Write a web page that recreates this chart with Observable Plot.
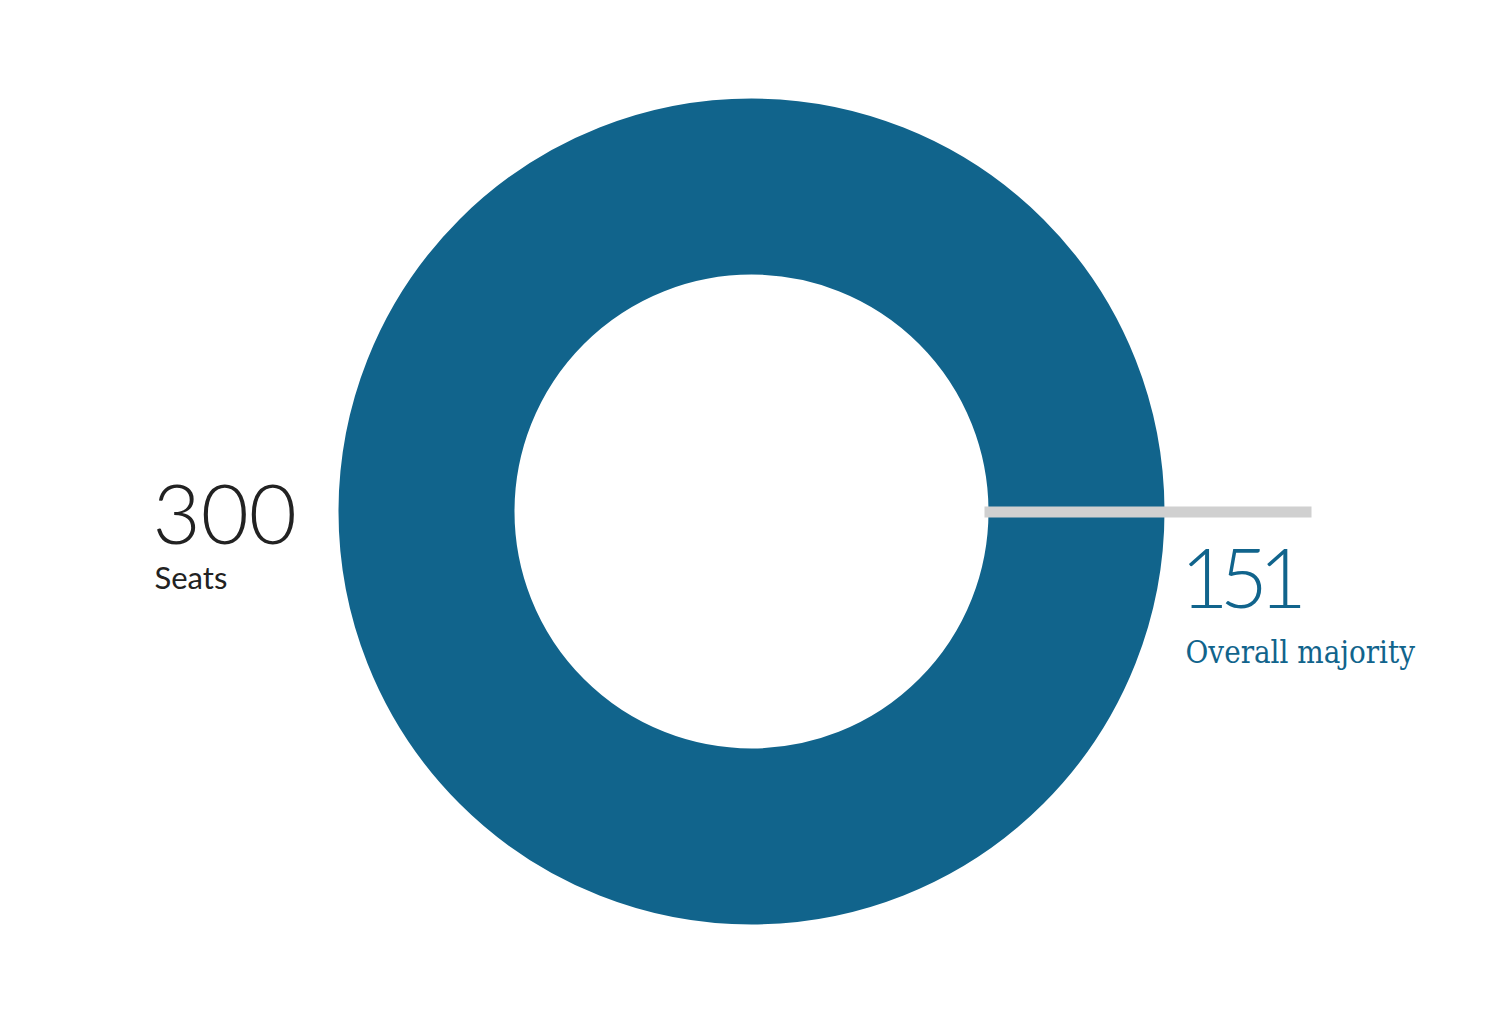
<!DOCTYPE html>
<html>
<head>
<meta charset="utf-8">
<script src="https://cdn.jsdelivr.net/npm/d3@7"></script>
<script src="https://cdn.jsdelivr.net/npm/@observablehq/plot@0.6"></script>
<style>
  html, body { margin: 0; padding: 0; background: #fff; }
  #chart svg { display: block; }
</style>
</head>
<body>
<div id="chart"></div>
<script>
// Data
const totalSeats = [300];
const majoritySeats = [151];
const figureLabels = ["300", "151"];
const figureCaptions = ["Seats", "Overall majority"];

// Layout (pixels)
const W = 1500, H = 1023;
const cx = 751, cy = 511;
const rOuter = 413, rInner = 237;
const ringColor = "#11648c";

const ring = totalSeats.map(s => ({seats: s, x: cx, y: cy, r: (rOuter + rInner) / 2}));
const marker = majoritySeats.map(m => ({seats: m, x1: 984, x2: 1311, y: cy + 0.5}));

const chart = Plot.plot({
  width: W,
  height: H,
  margin: 0,
  x: {domain: [0, W], range: [0, W], axis: null},
  y: {domain: [0, H], range: [0, H], axis: null},
  r: {type: "identity"},
  marks: [
    Plot.dot(ring, {x: "x", y: "y", r: "r", fill: "none", stroke: ringColor, strokeWidth: rOuter - rInner}),
    Plot.link(marker, {x1: "x1", x2: "x2", y1: "y", y2: "y", stroke: "#d0d0d0", strokeWidth: 11, strokeLinecap: "butt"}),
    Plot.text([figureLabels[0]], {x: () => 152, y: () => 543, text: d => d, textAnchor: "start", lineAnchor: "bottom", fontSize: 83, fontFamily: "Lato", fontWeight: 300, fill: "#222"}),
    Plot.text([figureCaptions[0]], {x: () => 154, y: () => 588, text: d => d, textAnchor: "start", lineAnchor: "bottom", fontSize: 31, fontFamily: "Lato", fontWeight: 400, fill: "#222"}),
    Plot.text([figureLabels[1]], {x: () => 1180, y: () => 607, text: d => d, textAnchor: "start", lineAnchor: "bottom", fontSize: 83, fontFamily: "Lato", fontWeight: 300, fill: ringColor}),
    Plot.text([figureCaptions[1]], {x: () => 1185, y: () => 662, text: d => d, textAnchor: "start", lineAnchor: "bottom", fontSize: 31, fontFamily: "DejaVu Serif Condensed, DejaVu Serif", fontWeight: 400, fill: ringColor})
  ]
});
d3.select(chart).selectAll("text").filter(function() { return this.textContent === figureLabels[1]; })
  .style("letter-spacing", "-9px");
document.getElementById("chart").appendChild(chart);
</script>
</body>
</html>
